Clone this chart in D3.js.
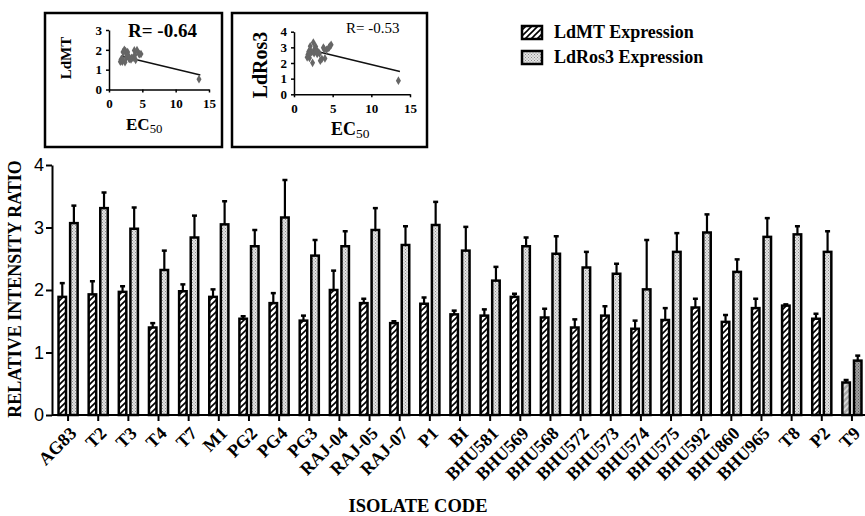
<!DOCTYPE html>
<html>
<head>
<meta charset="utf-8">
<style>
  body { margin: 0; background: #fff; }
  svg text { font-family: "Liberation Serif", "Times New Roman", serif; font-weight: bold; fill: #000; }
  svg .ytick text { font-family: "Liberation Sans", Arial, sans-serif; font-weight: normal; font-size: 18px; }
  svg .domain { stroke: #000; stroke-width: 2px; }
  svg .tick line { stroke: #000; stroke-width: 2px; }
</style>
</head>
<body>
<script src="https://cdn.jsdelivr.net/npm/d3@7"></script>
<script>
// isolates and the two expression series (mean, upper SD)
var isolates = ["AG83","T2","T3","T4","T7","M1","PG2","PG4","PG3","RAJ-04","RAJ-05","RAJ-07","P1","BI",
                "BHU581","BHU569","BHU568","BHU572","BHU573","BHU574","BHU575","BHU592","BHU860","BHU965","T8","P2","T9"];
var ldmt    = [1.89,1.93,1.97,1.40,1.98,1.89,1.54,1.79,1.51,2.00,1.79,1.47,1.78,1.61,1.59,1.89,1.56,1.40,1.59,1.38,1.52,1.72,1.49,1.71,1.75,1.54,0.52];
var ldmtSd  = [0.22,0.21,0.09,0.07,0.11,0.12,0.04,0.16,0.08,0.31,0.07,0.03,0.10,0.06,0.10,0.05,0.14,0.13,0.15,0.13,0.19,0.14,0.11,0.15,0.02,0.08,0.04];
var ldros3  = [3.07,3.31,2.98,2.32,2.84,3.05,2.70,3.16,2.55,2.70,2.96,2.72,3.04,2.63,2.15,2.70,2.58,2.36,2.26,2.01,2.61,2.92,2.29,2.85,2.89,2.61,0.87];
var ldros3Sd = [0.28,0.25,0.34,0.31,0.35,0.37,0.26,0.60,0.25,0.24,0.35,0.30,0.37,0.38,0.22,0.14,0.28,0.25,0.16,0.79,0.30,0.29,0.20,0.30,0.13,0.33,0.08];
var yTicks = [0,1,2,3,4];

// EC50 per isolate for the correlation insets
var ec50 = [2.1,2.5,3.8,2.0,4.2,2.8,3.1,4.8,1.8,2.3,4.5,1.9,4.6,2.6,3.4,2.2,3.0,1.7,3.6,2.4,3.3,2.7,4.0,2.9,3.9,2.0,13.5];
var ecTicks = [0,5,10,15];
var mtTrend  = [1.83, -0.080];   // intercept, slope
var rosTrend = [3.10, -0.120];
var trendX = [1.8, 13.7];

var W = 865, H = 516;
var svg = d3.select("body").append("svg").attr("width", W).attr("height", H);

var defs = svg.append("defs");
function hatch(id, bg, fg) {
  var p = defs.append("pattern").attr("id", id).attr("patternUnits", "userSpaceOnUse")
    .attr("width", 6).attr("height", 6);
  p.append("rect").attr("width", 6).attr("height", 6).attr("fill", bg);
  p.append("path").attr("d", "M0,6 L6,0 M-1,1 L1,-1 M5,7 L7,5")
    .attr("stroke", fg).attr("stroke-width", 1.6);
}
function dots(id, bg, fg) {
  var p = defs.append("pattern").attr("id", id).attr("patternUnits", "userSpaceOnUse")
    .attr("width", 3).attr("height", 3);
  p.append("rect").attr("width", 3).attr("height", 3).attr("fill", bg);
  p.append("rect").attr("width", 1).attr("height", 1).attr("fill", fg);
  p.append("rect").attr("x", 1.5).attr("y", 1.5).attr("width", 1).attr("height", 1).attr("fill", fg);
}
hatch("hatch", "#fff", "#000");
hatch("hatchGray", "#a8a8a8", "#dcdcdc");
dots("dots", "#e4e4e4", "#8a8a8a");
dots("dotsGray", "#a0a0a0", "#555");

// main chart
var x = d3.scaleBand().domain(isolates).range([53, 867]);
var y = d3.scaleLinear().domain([0, 4]).range([415, 165]);
var barW = 7.5, off = 5.8;

var g = svg.append("g");

g.append("g").attr("class", "ytick")
  .attr("transform", "translate(52,0)")
  .call(d3.axisLeft(y).tickValues(yTicks).tickSize(6).tickSizeOuter(0).tickFormat(d3.format("d")))
  .selectAll("text").attr("x", -8);

var xa = g.append("g")
  .attr("transform", "translate(0,415)")
  .call(d3.axisBottom(x).tickSize(6).tickSizeOuter(0));
xa.select(".domain").attr("d", "M52,0H865");
xa.selectAll("text")
  .attr("x", 0).attr("y", 0).attr("dy", "0.35em")
  .attr("transform", "translate(5,15) rotate(-45)")
  .style("text-anchor", "end")
  .style("font-size", "18px");

function drawSeries(vals, sds, dx, fill, fillLast) {
  var n = vals.length;
  var c = g.append("g");
  c.selectAll("line.err").data(vals).enter().append("line")
    .attr("x1", function (d, i) { return x(isolates[i]) + x.bandwidth() / 2 + dx; })
    .attr("x2", function (d, i) { return x(isolates[i]) + x.bandwidth() / 2 + dx; })
    .attr("y1", function (d) { return y(d); })
    .attr("y2", function (d, i) { return y(d + sds[i]); })
    .attr("stroke", "#000").attr("stroke-width", 2.2);
  c.selectAll("line.cap").data(vals).enter().append("line")
    .attr("x1", function (d, i) { return x(isolates[i]) + x.bandwidth() / 2 + dx - 2.5; })
    .attr("x2", function (d, i) { return x(isolates[i]) + x.bandwidth() / 2 + dx + 2.5; })
    .attr("y1", function (d, i) { return y(d + sds[i]); })
    .attr("y2", function (d, i) { return y(d + sds[i]); })
    .attr("stroke", "#000").attr("stroke-width", 2.5);
  c.selectAll("rect").data(vals).enter().append("rect")
    .attr("x", function (d, i) { return x(isolates[i]) + x.bandwidth() / 2 + dx - barW / 2; })
    .attr("y", function (d) { return y(d); })
    .attr("width", barW)
    .attr("height", function (d) { return y(0) - y(d); })
    .attr("fill", function (d, i) { return i === n - 1 ? fillLast : fill; })
    .attr("stroke", "#000").attr("stroke-width", 2.5);
}
drawSeries(ldmt, ldmtSd, -off, "url(#hatch)", "url(#hatchGray)");
drawSeries(ldros3, ldros3Sd, off, "url(#dots)", "url(#dotsGray)");

// axis titles
svg.append("text").attr("transform", "translate(21,289) rotate(-90)")
  .attr("text-anchor", "middle").style("font-size", "18px").text("RELATIVE INTENSITY RATIO");
svg.append("text").attr("x", 418).attr("y", 512)
  .attr("text-anchor", "middle").style("font-size", "18.5px").text("ISOLATE CODE");

// legend
var legend = [["LdMT Expression", "url(#hatch)"], ["LdRos3 Expression", "url(#dots)"]];
legend.forEach(function (l, i) {
  svg.append("rect").attr("x", 522).attr("y", 26 + i * 25).attr("width", 20).attr("height", 13)
    .attr("fill", l[1]).attr("stroke", "#000").attr("stroke-width", 2.5);
  svg.append("text").attr("x", 554).attr("y", 38 + i * 25).style("font-size", "18px").text(l[0]);
});

// correlation insets
function inset(box, xr, yr, ymax, yvals, trend, rText, rSize, rBold, yLabel, yLabelSize, yLabelPos, ecPos, ecSize) {
  svg.append("rect").attr("x", box[0]).attr("y", box[1]).attr("width", box[2]).attr("height", box[3])
    .attr("fill", "none").attr("stroke", "#000").attr("stroke-width", 2.5);
  var sx = d3.scaleLinear().domain([0, 15]).range(xr);
  var sy = d3.scaleLinear().domain([0, ymax]).range(yr);
  var ig = svg.append("g");
  var ax = ig.append("g").attr("transform", "translate(0," + yr[0] + ")")
    .call(d3.axisBottom(sx).tickValues(ecTicks).tickSize(3).tickSizeOuter(0));
  var ay = ig.append("g").attr("transform", "translate(" + xr[0] + ",0)")
    .call(d3.axisLeft(sy).ticks(ymax).tickSize(3).tickSizeOuter(0));
  ig.selectAll(".domain").style("stroke-width", "1.5px");
  ig.selectAll(".tick line").style("stroke-width", "1.5px");
  ig.selectAll(".tick text").style("font-size", "13px");
  ax.selectAll("text").attr("y", 9);
  ay.selectAll("text").attr("x", -7);
  ig.append("path")
    .attr("d", d3.line().x(function (d) { return sx(d); })
      .y(function (d) { return sy(trend[0] + trend[1] * d); })(trendX))
    .attr("stroke", "#111").attr("stroke-width", 1.5).attr("fill", "none");
  ig.selectAll("path.pt").data(yvals).enter().append("path")
    .attr("d", d3.symbol().type(d3.symbolDiamond).size(22))
    .attr("transform", function (d, i) { return "translate(" + sx(ec50[i]) + "," + sy(d) + ")"; })
    .attr("fill", "#666");
  svg.append("text").attr("x", rText[1]).attr("y", rText[2])
    .style("font-size", rSize + "px").style("font-weight", rBold ? "bold" : "normal").text(rText[0]);
  svg.append("text").attr("transform", "translate(" + yLabelPos[0] + "," + yLabelPos[1] + ") rotate(-90)")
    .attr("text-anchor", "middle").style("font-size", yLabelSize + "px").text(yLabel);
  var ec = svg.append("text").attr("x", ecPos[0]).attr("y", ecPos[1]).style("font-size", ecSize + "px");
  ec.append("tspan").text("EC");
  ec.append("tspan").attr("dy", 3).style("font-size", (ecSize * 0.75) + "px").style("font-weight", "normal").text("50");
}
inset([45, 13, 177, 134], [109, 209], [89.5, 30], 3, ldmt, mtTrend,
      ["R= -0.64", 128, 37], 19, true, "LdMT", 15, [71, 58], [126, 130], 17);
inset([232, 13, 195, 134], [294, 410], [94.3, 31.7], 4, ldros3, rosTrend,
      ["R= -0.53", 346, 33], 15, false, "LdRos3", 20, [267, 65], [331, 135], 18);
</script>
</body>
</html>
